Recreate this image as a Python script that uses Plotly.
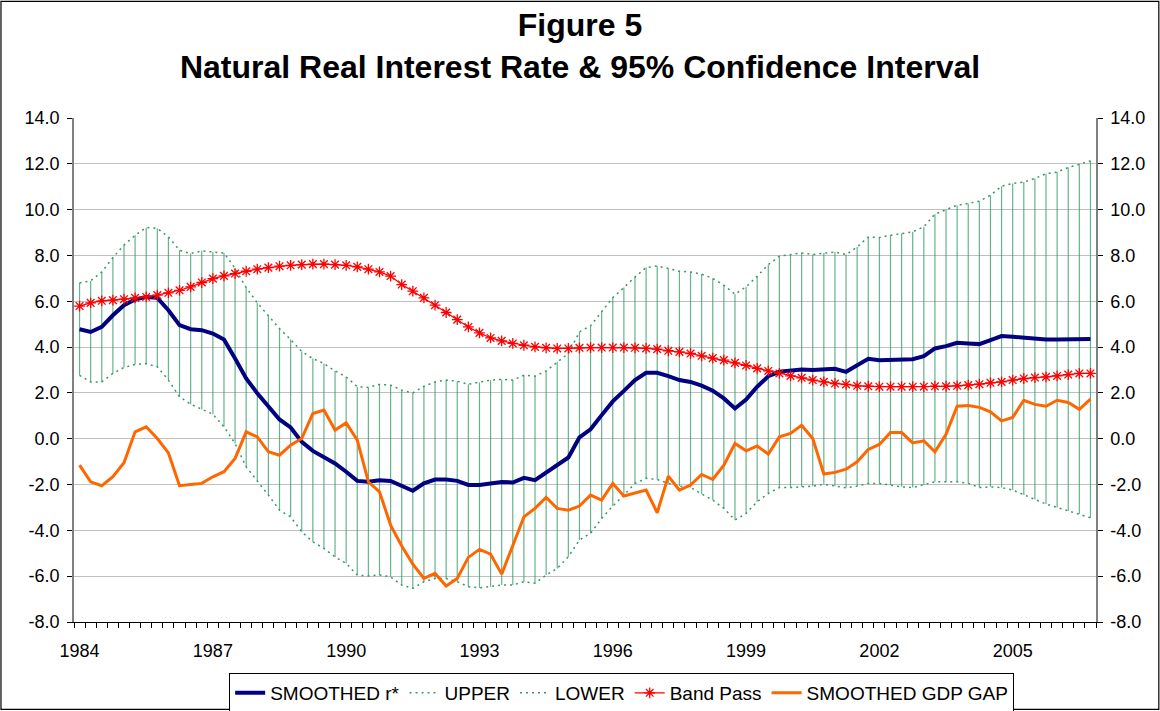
import plotly.graph_objects as go

# Quarterly data 1984Q1 .. 2006Q4 (92 quarters)
start_year = 1984
n_quarters = 92

smoothed_r = [4.78, 4.66, 4.88, 5.39, 5.83, 6.08, 6.19, 6.15, 5.61, 4.96,
              4.78, 4.74, 4.59, 4.33, 3.50, 2.63, 1.98, 1.42, 0.84, 0.49,
              -0.14, -0.53, -0.82, -1.08, -1.44, -1.84, -1.88, -1.81, -1.84, -2.07,
              -2.27, -1.95, -1.78, -1.78, -1.84, -2.02, -2.02, -1.95, -1.89, -1.91,
              -1.71, -1.81, -1.49, -1.15, -0.82, 0.06, 0.41, 1.03, 1.63, 2.09,
              2.56, 2.88, 2.88, 2.73, 2.56, 2.48, 2.32, 2.10, 1.76, 1.32,
              1.71, 2.27, 2.73, 2.92, 2.96, 3.02, 3.00, 3.04, 3.05, 2.92,
              3.20, 3.49, 3.43, 3.45, 3.45, 3.47, 3.60, 3.94, 4.04, 4.19,
              4.16, 4.13, 4.30, 4.48, 4.45, 4.40, 4.36, 4.33, 4.33, 4.33,
              4.35, 4.35]

upper = [6.80, 6.89, 7.28, 7.91, 8.45, 8.88, 9.22, 9.18, 8.81, 8.23,
         8.08, 8.20, 8.15, 8.11, 7.43, 6.60, 5.93, 5.39, 4.81, 4.33,
         3.81, 3.50, 3.28, 2.96, 2.70, 2.27, 2.24, 2.37, 2.34, 2.12,
         2.00, 2.29, 2.48, 2.56, 2.51, 2.38, 2.46, 2.56, 2.59, 2.56,
         2.77, 2.73, 2.96, 3.36, 3.72, 4.66, 4.93, 5.54, 6.16, 6.60,
         7.06, 7.47, 7.54, 7.43, 7.31, 7.28, 7.18, 7.00, 6.70, 6.31,
         6.63, 7.09, 7.60, 7.97, 8.04, 8.11, 8.04, 8.11, 8.15, 8.04,
         8.37, 8.81, 8.78, 8.88, 8.96, 9.03, 9.25, 9.80, 10.00, 10.19,
         10.27, 10.37, 10.63, 11.02, 11.14, 11.21, 11.36, 11.57, 11.64, 11.84,
         11.98, 12.13]

lower = [2.77, 2.48, 2.48, 2.85, 3.11, 3.24, 3.28, 3.14, 2.56, 1.83,
         1.51, 1.28, 1.07, 0.52, -0.21, -1.23, -1.84, -2.46, -3.12, -3.41,
         -4.06, -4.50, -4.79, -5.16, -5.44, -5.95, -5.99, -5.95, -6.03, -6.39,
         -6.53, -6.24, -6.10, -6.10, -6.24, -6.46, -6.51, -6.46, -6.39, -6.39,
         -6.24, -6.31, -5.95, -5.66, -5.15, -4.42, -4.13, -3.48, -2.94, -2.46,
         -1.95, -1.73, -1.78, -1.95, -2.07, -2.13, -2.42, -2.68, -3.04, -3.55,
         -3.26, -2.75, -2.39, -2.13, -2.13, -2.10, -2.07, -1.99, -2.07, -2.14,
         -2.07, -1.95, -1.95, -2.02, -2.10, -2.13, -2.02, -1.88, -1.88, -1.88,
         -1.95, -2.13, -2.10, -2.13, -2.24, -2.46, -2.65, -2.85, -3.00, -3.16,
         -3.29, -3.45]

band_pass = [5.79, 5.93, 6.02, 6.05, 6.09, 6.15, 6.19, 6.27, 6.37, 6.48,
             6.63, 6.82, 6.99, 7.11, 7.21, 7.31, 7.40, 7.47, 7.53, 7.57,
             7.60, 7.62, 7.62, 7.60, 7.57, 7.50, 7.40, 7.28, 7.10, 6.73,
             6.44, 6.15, 5.83, 5.51, 5.20, 4.88, 4.62, 4.40, 4.27, 4.16,
             4.08, 4.01, 3.97, 3.94, 3.94, 3.97, 3.98, 3.98, 3.98, 3.98,
             3.97, 3.94, 3.91, 3.84, 3.79, 3.72, 3.62, 3.52, 3.43, 3.31,
             3.20, 3.07, 2.96, 2.85, 2.74, 2.66, 2.56, 2.48, 2.41, 2.37,
             2.31, 2.29, 2.27, 2.27, 2.27, 2.27, 2.27, 2.29, 2.29, 2.31,
             2.34, 2.38, 2.44, 2.48, 2.56, 2.63, 2.67, 2.70, 2.74, 2.80,
             2.85, 2.85]

gdp_gap = [-1.15, -1.88, -2.05, -1.66, -1.05, 0.30, 0.52, 0.01, -0.62, -2.05,
           -2.00, -1.95, -1.66, -1.44, -0.86, 0.30, 0.08, -0.57, -0.72, -0.28,
           0.01, 1.10, 1.25, 0.38, 0.69, -0.06, -1.88, -2.32, -3.77, -4.68,
           -5.47, -6.10, -5.88, -6.43, -6.10, -5.18, -4.83, -5.04, -5.91, -4.64,
           -3.41, -3.04, -2.56, -3.04, -3.12, -2.94, -2.46, -2.68, -1.95, -2.50,
           -2.36, -2.24, -3.23, -1.63, -2.24, -2.02, -1.56, -1.78, -1.15, -0.21,
           -0.53, -0.32, -0.67, 0.08, 0.23, 0.59, 0.01, -1.54, -1.47, -1.33,
           -1.01, -0.47, -0.25, 0.27, 0.27, -0.18, -0.09, -0.57, 0.19, 1.42,
           1.45, 1.37, 1.17, 0.78, 0.93, 1.68, 1.50, 1.42, 1.68, 1.58,
           1.28, 1.73]

x_tick_years = [1984, 1987, 1990, 1993, 1996, 1999, 2002, 2005]
x_tick_labels = ["1984", "1987", "1990", "1993", "1996", "1999", "2002", "2005"]
y_tick_vals = [-8, -6, -4, -2, 0, 2, 4, 6, 8, 10, 12, 14]
y_tick_labels = ["-8.0", "-6.0", "-4.0", "-2.0", "0.0", "2.0", "4.0", "6.0",
                 "8.0", "10.0", "12.0", "14.0"]

x = [start_year + i / 4 for i in range(n_quarters)]

# high-low connector segments
hl_x, hl_y = [], []
for xi, lo, hi in zip(x, lower, upper):
    hl_x += [xi, xi, None]
    hl_y += [lo, hi, None]

GREEN = "#339966"
fig = go.Figure()
fig.add_trace(go.Scatter(x=hl_x, y=hl_y, mode="lines",
                         line=dict(color="rgba(51,153,102,0.75)", width=1.2),
                         showlegend=False, hoverinfo="skip"))
fig.add_trace(go.Scatter(x=x, y=smoothed_r, name="SMOOTHED r*", mode="lines",
                         line=dict(color="#000080", width=4)))
fig.add_trace(go.Scatter(x=x, y=upper, name="UPPER", mode="lines",
                         line=dict(color=GREEN, width=1.5, dash="2px,4px")))
fig.add_trace(go.Scatter(x=x, y=lower, name="LOWER", mode="lines",
                         line=dict(color=GREEN, width=1.5, dash="2px,4px")))
fig.add_trace(go.Scatter(x=x, y=band_pass, name="Band Pass", mode="lines+markers",
                         line=dict(color="#FF0000", width=1.2),
                         marker=dict(symbol="asterisk-open", size=9,
                                     line=dict(color="#FF0000", width=1.3))))
fig.add_trace(go.Scatter(x=x, y=gdp_gap, name="SMOOTHED GDP GAP", mode="lines",
                         line=dict(color="#FF6600", width=3)))
# dummy trace to activate the right axis
fig.add_trace(go.Scatter(x=x, y=upper, yaxis="y2", mode="lines",
                         line=dict(width=0), opacity=0, showlegend=False,
                         hoverinfo="skip"))

W, H = 1160, 711
L, R, T, B = 74, 64.3, 117.7, 89
pw = W - L - R
ph = H - T - B

def px_x(p):
    return (p - L) / pw

def px_y(p):
    return (H - B - p) / ph

fig.add_shape(type="rect", xref="paper", yref="paper",
              x0=px_x(1), x1=px_x(1158.5), y0=px_y(709.5), y1=px_y(1),
              line=dict(color="black", width=1.2), layer="below")

font_family = "Liberation Sans, Arial, sans-serif"
yaxis_common = dict(range=[-8, 14], tickvals=y_tick_vals, ticktext=y_tick_labels,
                    ticks="outside", ticklen=5, tickcolor="black",
                    showline=True, linecolor="#808080", linewidth=1.5,
                    zeroline=False, tickfont=dict(size=18, color="black"),
                    ticklabelstandoff=4)

fig.update_layout(
    width=W, height=H,
    margin=dict(l=L, r=R, t=T, b=B, autoexpand=False),
    paper_bgcolor="white", plot_bgcolor="white",
    font=dict(family=font_family, color="black"),
    title=dict(text="<b>Figure 5</b><br><b>Natural Real Interest Rate &amp; 95% Confidence Interval</b>",
               x=0.5, xref="container", xanchor="center",
               y=1 - 36 / H, yref="container", yanchor="top",
               font=dict(size=32, family=font_family, color="black")),
    xaxis=dict(range=[start_year - 0.125, start_year + (n_quarters - 1) / 4 + 0.125],
               tickvals=x_tick_years, ticktext=x_tick_labels, ticks="",
               tickfont=dict(size=18, color="black"), ticklabelstandoff=12,
               showline=True, linecolor="black", linewidth=1.2,
               showgrid=False, zeroline=False,
               minor=dict(tick0=start_year - 0.125, dtick=0.25, ticks="outside",
                          ticklen=5, tickcolor="black", showgrid=False)),
    yaxis=dict(**yaxis_common, showgrid=True, gridcolor="#C0C0C0", gridwidth=1.2),
    yaxis2=dict(**yaxis_common, overlaying="y", side="right", showgrid=False),
    legend=dict(orientation="h", x=px_x(621.5), xanchor="center",
                y=px_y(673), yanchor="top",
                bordercolor="black", borderwidth=1,
                font=dict(size=19, color="black"),
                itemwidth=30, tracegroupgap=0),
    showlegend=True,
)

fig.write_html("out.html", config={"displayModeBar": False},
               post_script="document.body.style.margin='0px';")
